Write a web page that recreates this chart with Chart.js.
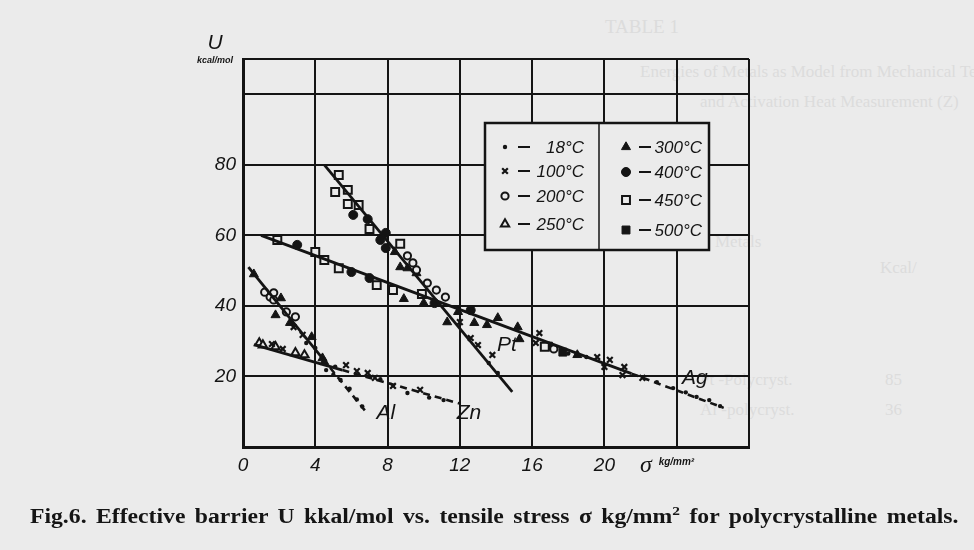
<!DOCTYPE html>
<html>
<head>
<meta charset="utf-8">
<script src="https://cdn.jsdelivr.net/npm/chart.js@4.4.1/dist/chart.umd.min.js"></script>
<style>
  body { margin: 0; background: #ebebeb; width: 974px; height: 550px; overflow: hidden; position: relative; }
  #c { position: absolute; left: 0; top: 0; z-index: 2; }
  .ghost { position: absolute; color: #dcdcdc; font-family: "Liberation Serif", serif; font-size: 17px; z-index: 1; white-space: nowrap; }
  #caption { position: absolute; left: 30px; top: 503px; z-index: 3; font-family: "Liberation Serif", serif; font-weight: bold;
             font-size: 20px; color: #151515; white-space: nowrap; transform-origin: 0 0; word-spacing: 3px; }
</style>
</head>
<body>
<div class="ghost" style="left:605px;top:16px;font-size:19px">TABLE 1</div>
<div class="ghost" style="left:640px;top:62px">Energies of Metals as Model from Mechanical Test Data (U)</div>
<div class="ghost" style="left:700px;top:92px">and Activation Heat Measurement (Z)</div>
<div class="ghost" style="left:715px;top:232px">Metals</div>
<div class="ghost" style="left:880px;top:258px">Kcal/</div>
<div class="ghost" style="left:700px;top:370px">Pt -Polycryst.</div>
<div class="ghost" style="left:885px;top:370px">85</div>
<div class="ghost" style="left:700px;top:400px">Al -polycryst.</div>
<div class="ghost" style="left:885px;top:400px">36</div>
<canvas id="c" width="974" height="550"></canvas>
<div id="caption">Fig.6. Effective barrier U kkal/mol vs. tensile stress σ kg/mm<sup style="font-size:13px">2</sup> for polycrystalline metals.</div>
<script>
/* Data: sigma (kg/mm2) and U (kcal/mol) */
const temps = ['18°C', '100°C', '200°C', '250°C', '300°C', '400°C', '450°C', '500°C'];

const x18 = [3.5, 4.0, 4.6, 5.0, 5.4, 5.9, 6.3, 6.6, 5.1, 7.6, 9.1, 10.3, 11.1, 13.6, 14.1, 18.0, 19.0, 22.9, 23.8, 24.5, 25.1, 25.8, 26.4];
const y18 = [29.5, 28.1, 21.8, 20.5, 19.0, 16.5, 13.5, 11.5, 22.8, 19.2, 15.3, 14.0, 13.3, 23.8, 21.0, 26.5, 25.5, 18.4, 16.7, 15.5, 14.2, 13.3, 11.6];

const x100 = [2.8, 3.3, 1.6, 2.2, 5.7, 6.3, 6.9, 7.3, 8.3, 9.8, 12.0, 12.6, 13.0, 13.8, 16.4, 16.2, 19.6, 20.0, 20.3, 21.1, 21.0, 22.1];
const y100 = [34.0, 31.8, 29.2, 27.8, 23.2, 21.5, 21.0, 19.6, 17.3, 16.2, 35.4, 30.9, 28.9, 26.1, 32.3, 29.5, 25.5, 22.7, 24.7, 22.7, 20.4, 19.6];

const x200 = [1.2, 1.5, 1.7, 1.7, 2.4, 2.9, 9.1, 9.4, 9.6, 10.2, 10.7, 11.2, 17.2];
const y200 = [43.9, 42.5, 43.7, 41.7, 38.3, 36.9, 54.2, 52.2, 50.2, 46.5, 44.5, 42.5, 27.8];

const x250 = [0.9, 1.1, 1.8, 2.9, 3.4];
const y250 = [29.5, 28.9, 28.4, 26.7, 26.1];

const x300 = [0.6, 2.1, 1.8, 2.6, 3.8, 4.4, 4.5, 8.4, 8.7, 9.1, 9.6, 8.9, 10.0, 11.3, 11.9, 12.8, 13.5, 14.1, 15.2, 15.3, 18.5];
const y300 = [49.0, 42.2, 37.4, 35.2, 31.2, 25.2, 24.1, 55.3, 51.0, 50.7, 49.3, 42.0, 40.8, 35.4, 38.3, 35.2, 34.6, 36.6, 34.0, 30.6, 26.1];

const x400 = [6.1, 6.9, 7.6, 7.9, 7.9, 10.6, 12.6, 3.0, 6.0, 7.0];
const y400 = [65.8, 64.6, 58.7, 56.4, 60.7, 40.8, 38.8, 57.3, 49.6, 47.9];

const x450 = [5.3, 5.1, 5.8, 5.8, 6.4, 7.0, 8.7, 1.9, 4.0, 4.5, 5.3, 7.4, 8.3, 9.9, 16.7];
const y450 = [77.1, 72.3, 72.9, 68.9, 68.6, 61.8, 57.6, 58.7, 55.3, 53.0, 50.7, 45.9, 44.5, 43.4, 28.4];

const x500 = [16.9, 17.7];
const y500 = [28.6, 26.9];

// fitted lines (solid part, then dashed tail)
const metals = ['Pt', 'Ag', 'Al', 'Zn'];
const lineX = [[4.5, 14.9], [1.0, 21.5], [0.3, 4.4], [0.6, 5.5]];
const lineY = [[80.0, 15.6], [60.0, 20.8], [51.0, 25.1], [29.0, 21.8]];
const tailX = [[], [21.5, 26.6], [4.4, 6.8], [5.5, 12.0]];
const tailY = [[], [20.8, 11.1], [25.1, 10.0], [21.8, 12.3]];
const labelX = [14.6, 25.0, 7.9, 12.5];
const labelY = [29.0, 19.5, 9.5, 9.5];

const xTicks = [0, 4, 8, 12, 16, 20];
const yTicks = [20, 40, 60, 80];

const ink = '#141414';
const paper = '#ebebeb';

const pts = (xs, ys) => xs.map((x, i) => ({ x: x, y: ys[i] }));

const markerStyle = [
  { pointStyle: 'circle', radius: 2.2, fill: ink, bw: 0 },
  { pointStyle: 'crossRot', radius: 4, fill: ink, bw: 2.2 },
  { pointStyle: 'circle', radius: 3.6, fill: paper, bw: 2 },
  { pointStyle: 'triangle', radius: 4.8, fill: paper, bw: 2 },
  { pointStyle: 'triangle', radius: 5.2, fill: ink, bw: 1 },
  { pointStyle: 'circle', radius: 4.5, fill: ink, bw: 1 },
  { pointStyle: 'rect', radius: 5.6, fill: paper, bw: 2 },
  { pointStyle: 'rect', radius: 5.6, fill: ink, bw: 1 }
];

const series = [[x18, y18], [x100, y100], [x200, y200], [x250, y250], [x300, y300], [x400, y400], [x450, y450], [x500, y500]];

let datasets = [];
metals.forEach((m, i) => {
  datasets.push({ label: m, data: pts(lineX[i], lineY[i]), showLine: true, borderColor: ink, borderWidth: 2.8, pointRadius: 0 });
  if (tailX[i].length)
    datasets.push({ label: m + ' tail', data: pts(tailX[i], tailY[i]), showLine: true, borderColor: ink, borderWidth: 2.6,
                    borderDash: [7, 5], pointRadius: 0 });
});
series.forEach((s, i) => {
  const ms = markerStyle[i];
  datasets.push({
    label: temps[i], data: pts(s[0], s[1]), showLine: false,
    pointStyle: ms.pointStyle, pointRadius: ms.radius, pointBackgroundColor: ms.fill,
    pointBorderColor: ink, pointBorderWidth: ms.bw
  });
});

// legend box, line names and axis units
const extras = {
  id: 'extras',
  afterDraw(chart) {
    const c = chart.ctx;
    const sx = chart.scales.x, sy = chart.scales.y;
    const a = chart.chartArea;
    c.save();
    c.fillStyle = ink;
    c.font = 'italic 21px "Liberation Sans"';
    c.textAlign = 'center';
    c.textBaseline = 'middle';
    metals.forEach((m, i) => c.fillText(m, sx.getPixelForValue(labelX[i]), sy.getPixelForValue(labelY[i])));

    // U  kcal/mol
    c.font = 'italic 21px "Liberation Sans"';
    c.fillText('U', a.left - 28, a.top - 16);
    c.font = 'italic bold 9px "Liberation Sans"';
    c.fillText('kcal/mol', a.left - 28, a.top + 2);
    // sigma kg/mm2
    c.font = 'italic 24px "Liberation Serif"';
    c.fillText('σ', sx.getPixelForValue(22.3), a.bottom + 19);
    c.font = 'italic bold 10px "Liberation Sans"';
    c.textAlign = 'left';
    c.fillText('kg/mm²', sx.getPixelForValue(23.0), a.bottom + 15);

    // legend
    const L = 485, T = 123, W = 224, H = 127, mid = 599;
    c.fillStyle = paper;
    c.fillRect(L, T, W, H);
    c.strokeStyle = ink;
    c.lineWidth = 2.5;
    c.strokeRect(L, T, W, H);
    c.beginPath();
    c.moveTo(mid, T);
    c.lineTo(mid, T + H);
    c.lineWidth = 1.5;
    c.stroke();
    const rowY = [[147, 171, 196, 224], [147, 172, 200, 230]];
    temps.forEach((t, i) => {
      const col = i < 4 ? 0 : 1, row = i % 4;
      const mx = col ? 626 : 505, my = rowY[col][row];
      const ms = markerStyle[i];
      c.fillStyle = ms.fill;
      c.strokeStyle = ink;
      c.lineWidth = ms.bw;
      Chart.helpers.drawPoint(c, { pointStyle: ms.pointStyle, radius: ms.radius, borderWidth: ms.bw, rotation: 0 }, mx, my);
      c.beginPath();
      c.moveTo(mx + 13, my);
      c.lineTo(mx + 25, my);
      c.lineWidth = 2;
      c.stroke();
      c.fillStyle = ink;
      c.font = 'italic 17px "Liberation Sans"';
      c.textAlign = 'right';
      c.fillText(t, col ? 702 : 584, my + 1);
    });
    c.restore();
  }
};

const config = {
  type: 'scatter',
  data: { datasets: datasets },
  options: {
    responsive: false,
    animation: false,
    layout: { padding: { left: 0, right: 225, top: 59, bottom: 0 } },
    plugins: { legend: { display: false }, tooltip: { enabled: false } },
    scales: {
      x: {
        type: 'linear', min: 0, max: 28,
        afterFit: s => { s.height = 103; },
        ticks: {
          stepSize: 4, padding: 7, color: ink,
          font: { family: 'Liberation Sans', style: 'italic', size: 19 },
          callback: v => xTicks.includes(v) ? String(v) : ''
        },
        grid: { color: ink, lineWidth: 2, drawTicks: false },
        border: { color: ink, width: 3 }
      },
      y: {
        type: 'linear', min: 0, max: 110,
        afterFit: s => { s.width = 243; },
        ticks: {
          stepSize: 20, padding: 7, color: ink,
          font: { family: 'Liberation Sans', style: 'italic', size: 19 },
          callback: v => yTicks.includes(v) ? String(v) : ''
        },
        grid: { color: ink, lineWidth: 2, drawTicks: false },
        border: { color: ink, width: 3 }
      }
    }
  },
  plugins: [extras]
};

let ctx = document.getElementById('c').getContext('2d');
let figChart = new Chart(ctx, config);

// stretch the caption to the printed width
const cap = document.getElementById('caption');
cap.style.transform = 'scaleX(' + (928 / cap.offsetWidth) + ')';
</script>
</body>
</html>
